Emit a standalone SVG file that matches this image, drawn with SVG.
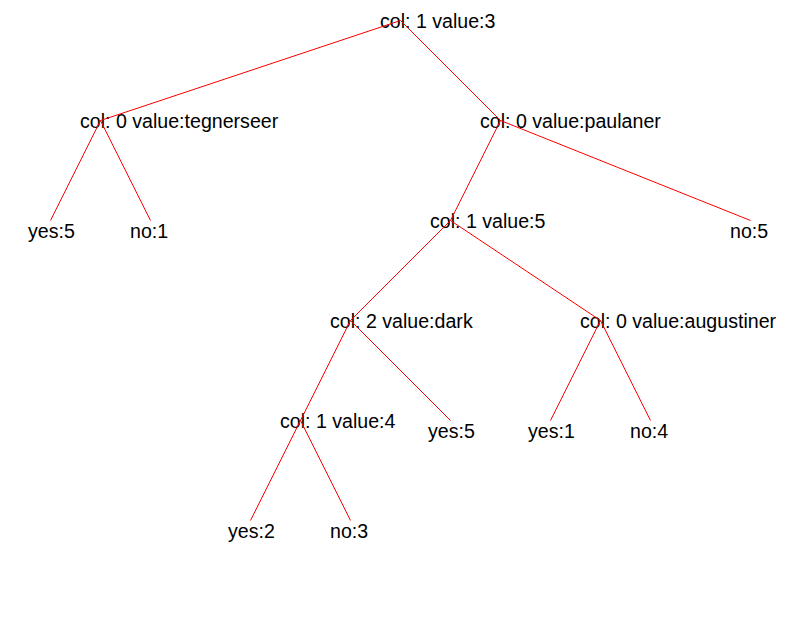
<svg xmlns="http://www.w3.org/2000/svg" width="800" height="620" viewBox="0 0 800 620">
<style>
text{font-family:"Liberation Sans",Arial,sans-serif;font-size:19.6px;fill:#000}
.c line{stroke:#ff0000;stroke-width:1}
</style>
<rect width="800" height="620" fill="#fff"/>
<g id="nodes">
<g id="n-root"><text x="380" y="28">col: 1 value:3</text></g>
<g id="n-tegnerseer"><text x="80" y="128">col: 0 value:tegnerseer</text></g>
<g id="n-paulaner"><text x="480" y="128">col: 0 value:paulaner</text></g>
<g id="leaf-yes5a"><text x="28" y="238">yes:5</text></g>
<g id="leaf-no1"><text x="130" y="238">no:1</text></g>
<g id="n-value5"><text x="430" y="228">col: 1 value:5</text></g>
<g id="leaf-no5"><text x="730" y="238">no:5</text></g>
<g id="n-dark"><text x="330" y="328">col: 2 value:dark</text></g>
<g id="n-augustiner"><text x="580" y="328">col: 0 value:augustiner</text></g>
<g id="n-value4"><text x="280" y="428">col: 1 value:4</text></g>
<g id="leaf-yes5b"><text x="428" y="438">yes:5</text></g>
<g id="leaf-yes1"><text x="528" y="438">yes:1</text></g>
<g id="leaf-no4"><text x="630" y="438">no:4</text></g>
<g id="leaf-yes2"><text x="228" y="538">yes:2</text></g>
<g id="leaf-no3"><text x="330" y="538">no:3</text></g>
</g>
<g id="connectors" class="c" stroke="#ff0000">
<line x1="400.5" y1="20.5" x2="100.5" y2="120.5"/>
<line x1="400.5" y1="20.5" x2="500.5" y2="120.5"/>
<line x1="100.5" y1="120.5" x2="50.5" y2="220.5"/>
<line x1="100.5" y1="120.5" x2="150.5" y2="220.5"/>
<line x1="500.5" y1="120.5" x2="450.5" y2="220.5"/>
<line x1="500.5" y1="120.5" x2="750.5" y2="220.5"/>
<line x1="450.5" y1="220.5" x2="350.5" y2="320.5"/>
<line x1="450.5" y1="220.5" x2="600.5" y2="320.5"/>
<line x1="350.5" y1="320.5" x2="300.5" y2="420.5"/>
<line x1="350.5" y1="320.5" x2="450.5" y2="420.5"/>
<line x1="600.5" y1="320.5" x2="550.5" y2="420.5"/>
<line x1="600.5" y1="320.5" x2="650.5" y2="420.5"/>
<line x1="300.5" y1="420.5" x2="250.5" y2="520.5"/>
<line x1="300.5" y1="420.5" x2="350.5" y2="520.5"/>
</g>
</svg>
